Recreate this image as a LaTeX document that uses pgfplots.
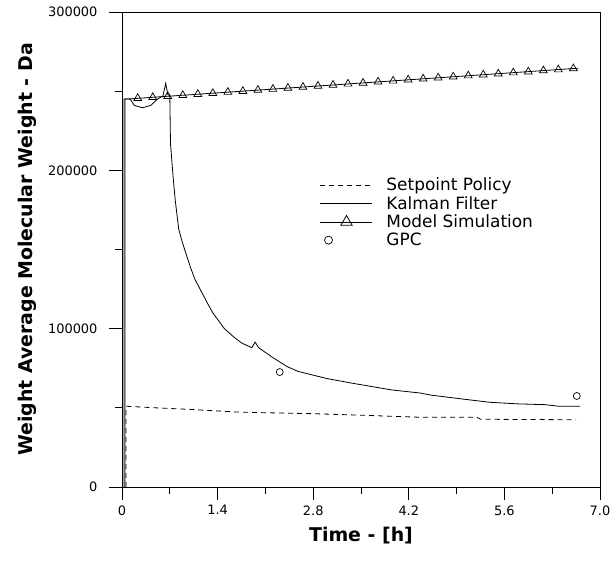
\documentclass[border=0pt]{standalone}
\usepackage{fontspec}
\setmainfont{DejaVu Sans}
\usepackage{pgfplots}
\pgfplotsset{compat=1.18}
\begin{document}
\begin{tikzpicture}
\begin{axis}[
  scale only axis, width=478bp, height=475bp,
  xmin=0, xmax=7, ymin=0, ymax=300000,
  axis line style={line width=0.8bp},
  xtick={0,1.4,2.8,4.2,5.6,7.0}, xticklabels={0,1.4,2.8,4.2,5.6,7.0},
  minor xtick={0.7,2.1,3.5,4.9,6.3},
  ytick={0,100000,200000,300000}, yticklabels={0,100000,200000,300000},
  minor ytick={50000,150000,250000},
  tick align=outside, xtick pos=bottom, ytick pos=left,
  major tick length=13bp, minor tick length=7bp,
  tick style={line width=0.8bp, black},
  every tick label/.append style={font=\fontsize{13}{15}\selectfont},
  yticklabel style={xshift=-8bp},
  xticklabel style={yshift=-2bp},
  /pgf/number format/assume math mode=true,
  xlabel={Time - [h]}, ylabel={Weight Average Molecular Weight - Da},
  label style={font=\bfseries\fontsize{19}{22}\selectfont},
  xlabel style={at={(axis description cs:0.5,-0.103)}, anchor=center},
  ylabel style={at={(axis description cs:-0.198,0.5)}, anchor=center},
  legend style={draw=none, fill=none, at={(axis description cs:0.414,0.655)}, anchor=north west,
    font=\fontsize{17}{20}\selectfont, row sep=0bp, inner sep=0pt},
  legend cell align=left,
]
\coordinate (SW) at (rel axis cs:0,0);
\coordinate (NE) at (rel axis cs:1,1);

% Setpoint policy
\addplot[forget plot, black, line width=0.8bp, dash pattern=on 5bp off 4bp] coordinates {
 (0.06,0) (0.06,51000) (0.5,50000) (1.0,49000) (1.66,47400) (2.0,47000) (2.8,46300)
 (3.4,45500) (4.4,44000) (5.2,44000) (5.25,42800) (6.0,42600) (6.65,42500)
};
% Kalman filter
\addplot[forget plot, black, line width=0.8bp] coordinates {
 (0.03,0) (0.03,245000) (0.12,245000) (0.18,241000) (0.3,239500) (0.42,241000)
 (0.52,245000) (0.6,247000) (0.64,255000) (0.67,248000) (0.70,247000) (0.71,217000)
 (0.75,195000) (0.78,181000) (0.83,163000) (0.88,155000) (1.0,139000) (1.07,131000)
 (1.24,117000) (1.33,110000) (1.5,100000) (1.63,95000) (1.75,91000) (1.90,88000)
 (1.95,91500) (2.0,88000) (2.2,82000) (2.42,76000) (2.58,73000) (3.0,68500)
 (3.38,65500) (3.95,61300) (4.36,59400) (4.53,58000) (5.0,55500) (5.39,53500)
 (5.8,52500) (6.2,52000) (6.4,51000) (6.71,51000)
};
% Model simulation line
\addplot[forget plot, black, line width=0.8bp] coordinates {
 (0.045,0) (0.045,245000) (0.07,245000) (6.68,264500)
};
% Model simulation markers
\addplot[forget plot, black, only marks, mark=triangle, mark size=4.5bp, mark options={line width=0.7bp}] coordinates {
 (0.23,245500) (0.45,246100) (0.67,246800) (0.89,247400) (1.11,248100) (1.33,248700)
 (1.55,249400) (1.77,250000) (1.99,250700) (2.21,251300) (2.43,252000) (2.65,252600)
 (2.87,253300) (3.09,253900) (3.31,254600) (3.53,255200) (3.75,255900) (3.97,256500)
 (4.19,257200) (4.41,257800) (4.63,258500) (4.85,259100) (5.07,259800) (5.29,260400)
 (5.51,261000) (5.73,261700) (5.95,262300) (6.17,263000) (6.39,263600) (6.61,264300)
};
% GPC
\addplot[forget plot, black, only marks, mark=o, mark size=3.5bp, mark options={line width=0.7bp}] coordinates {
 (2.31,72600) (6.66,57500)
};

\addlegendimage{legend image code/.code={\path[draw=none,fill=none] (0bp,0bp)--(64bp,0bp);
  \draw[black,line width=0.8bp,dash pattern=on 5bp off 4bp] (0bp,0bp)--(52bp,0bp);}}
\addlegendentry{Setpoint Policy}
\addlegendimage{legend image code/.code={\path[draw=none,fill=none] (0bp,0bp)--(64bp,0bp);
  \draw[black,line width=0.8bp] (0bp,0bp)--(52bp,0bp);}}
\addlegendentry{Kalman Filter}
\addlegendimage{legend image code/.code={\path[draw=none,fill=none] (0bp,0bp)--(64bp,0bp);
  \draw[black,line width=0.8bp] (0bp,0bp)--(52bp,0bp);
  \draw[black,line width=0.8bp,mark=triangle,mark size=6.5bp] plot coordinates {(26bp,0bp)};}}
\addlegendentry{Model Simulation}
\addlegendimage{legend image code/.code={\path[draw=none,fill=none] (0bp,0bp)--(64bp,0bp);
  \draw[black,line width=0.7bp,mark=o,mark size=4bp] plot coordinates {(8bp,0bp)};}}
\addlegendentry{GPC}
\end{axis}
\pgfresetboundingbox
\path[use as bounding box] ([xshift=-122bp,yshift=-78bp]SW) rectangle ([xshift=14bp,yshift=12bp]NE);
\end{tikzpicture}
\end{document}
